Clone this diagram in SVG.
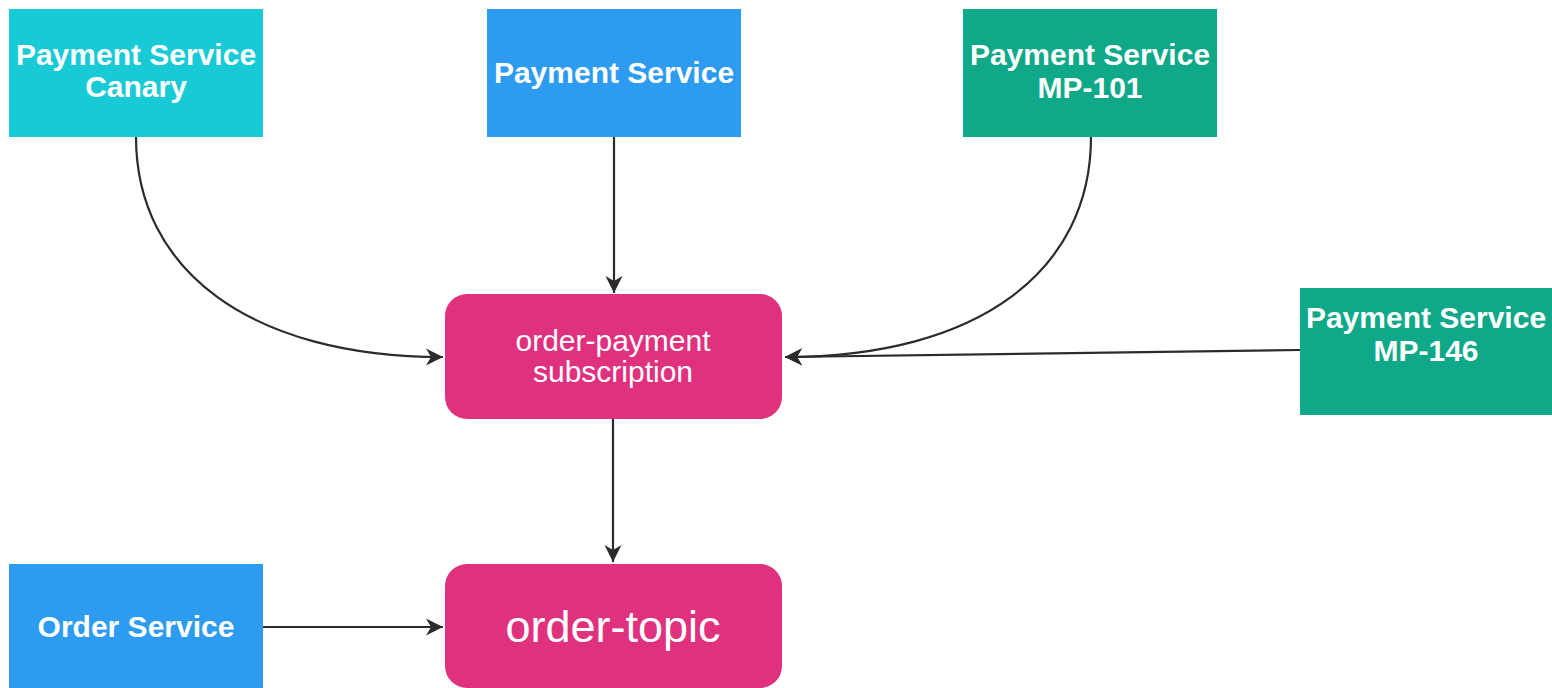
<svg xmlns="http://www.w3.org/2000/svg" width="1552" height="688" viewBox="0 0 1552 688">
<style>
.svc{font-family:"Liberation Sans",Arial,sans-serif;font-weight:bold;font-size:30px;fill:#fff;text-anchor:middle}
.pk{font-family:"Liberation Sans",Arial,sans-serif;fill:#fff;text-anchor:middle}
.edge{fill:none;stroke:#2b2b2b;stroke-width:2.2;marker-end:url(#arr)}
</style>
<defs>
<marker id="arr" markerUnits="userSpaceOnUse" viewBox="-18 -10 19 20" refX="0" refY="0" markerWidth="19" markerHeight="20" orient="auto">
<path d="M0,0 L-17,-8.5 L-12,0 L-17,8.5 Z" fill="#2b2b2b"/>
</marker>
</defs>
<rect width="1552" height="688" fill="#fff"/>
<g id="connectors">
<path class="edge" d="M136,137 C136,270 250,357 443,357"/>
<path class="edge" d="M614,137 L614,293"/>
<path class="edge" d="M1091,137 C1091,270 980,357 785,357"/>
<path class="edge" d="M1300,350 L785,357"/>
<path class="edge" d="M613,419 L613,562"/>
<path class="edge" d="M263,627 L443,627"/>
</g>
<g id="canary">
<rect x="9" y="9" width="254" height="128" fill="#17CAD6"/>
<text class="svc" x="136" y="65">Payment Service</text>
<text class="svc" x="136" y="97">Canary</text>
</g>
<g id="payment">
<rect x="487" y="9" width="254" height="128" fill="#2D9BEF"/>
<text class="svc" x="614" y="83">Payment Service</text>
</g>
<g id="mp101">
<rect x="963" y="9" width="254" height="128" fill="#0FA889"/>
<text class="svc" x="1090" y="65">Payment Service</text>
<text class="svc" x="1090" y="98">MP-101</text>
</g>
<g id="mp146">
<rect x="1300" y="288" width="254" height="127" fill="#0FA889"/>
<text class="svc" x="1426" y="328">Payment Service</text>
<text class="svc" x="1426" y="361">MP-146</text>
</g>
<g id="subscription">
<rect x="445" y="294" width="337" height="125" rx="22" fill="#E0317E"/>
<text class="pk" x="613" y="351" font-size="30">order-payment</text>
<text class="pk" x="613" y="382" font-size="30">subscription</text>
</g>
<g id="order-topic">
<rect x="445" y="564" width="337" height="124" rx="22" fill="#E0317E"/>
<text class="pk" x="613" y="642" font-size="45">order-topic</text>
</g>
<g id="order-service">
<rect x="9" y="564" width="254" height="124" fill="#2D9BEF"/>
<text class="svc" x="136" y="637">Order Service</text>
</g>
</svg>
